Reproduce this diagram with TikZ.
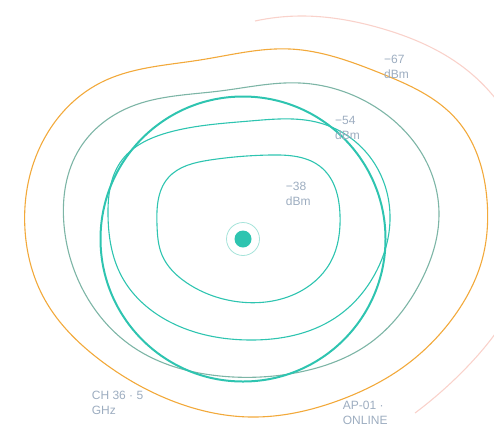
\documentclass[tikz,border=0pt]{standalone}
\usepackage{fontspec}
\setmainfont{Liberation Sans}
\usetikzlibrary{hobby}
\definecolor{tealc}{HTML}{2EC4B0}
\definecolor{sage}{HTML}{7DB5A6}
\definecolor{amber}{HTML}{F2A93B}
\definecolor{blush}{HTML}{F9D2CB}
\definecolor{ringc}{HTML}{A6E3DA}
\definecolor{labelc}{HTML}{9DADC0}
\begin{document}
\begin{tikzpicture}[x=1pt, y=-1pt,
  contour/.style={line width=1.1pt},
  lbl/.style={text=labelc, font=\fontsize{12}{15}\selectfont, align=left, inner sep=0pt, anchor=base west}]
\useasboundingbox (0,0) rectangle (494,437);
\clip (0,0) rectangle (494,437);

% Outer fringe
\draw [contour, blush] plot [hobby] coordinates {(255,21) (300,16) (380,28) (463,67) (520,140) (534,215) (520,290) (467,367) (415,413)};

% -67 dBm
\draw [contour, amber] plot [closed hobby] coordinates {(25,230) (40,147) (100,83) (200,60) (290,49) (380,73) (457,120) (487,200) (482,260) (455,315) (402,368) (340,400) (250,417) (170,400) (100,360) (45,300)};

% -60 dBm
\draw [contour, sage] plot [closed hobby] coordinates {(64,225) (80,148) (130,107) (220,91) (300,83) (380,110) (427,163) (439,215) (420,283) (370,343) (300,372) (220,376) (133,347) (83,290)};

% -54 dBm
\draw [contour, tealc] plot [closed hobby] coordinates {(108,215) (122,160) (170,132) (250,121) (320,123) (370,157) (390,220) (377,270) (335,318) (250,340) (170,322) (122,277)};

% -38 dBm
\draw [contour, tealc] plot [closed hobby] coordinates {(157,225) (168,178) (210,160) (270,155) (322,168) (340,215) (330,263) (295,294) (240,302) (187,283) (162,255)};

% Access point and its range
\coordinate (ap) at (243,239);
\draw [tealc, line width=2pt] (ap) circle (142.5pt);
\node [circle, draw=ringc, line width=0.8pt, minimum size=33pt, inner sep=0pt] (apring) at (ap) {};
\node [circle, fill=tealc, minimum size=17pt, inner sep=0pt] (apdot) at (ap) {};

% Labels
\node [lbl] (lbl67) at (384,78.5) {−67\\dBm};
\node [lbl] (lbl54) at (335,139) {−54\\dBm};
\node [lbl] (lbl38) at (285.7,205.7) {−38\\dBm};
\node [lbl] (lblch) at (91.7,414.3) {CH 36 · 5\\GHz};
\node [lbl] (lblap) at (342.7,424.3) {AP-01 ·\\ONLINE};
\end{tikzpicture}
\end{document}
